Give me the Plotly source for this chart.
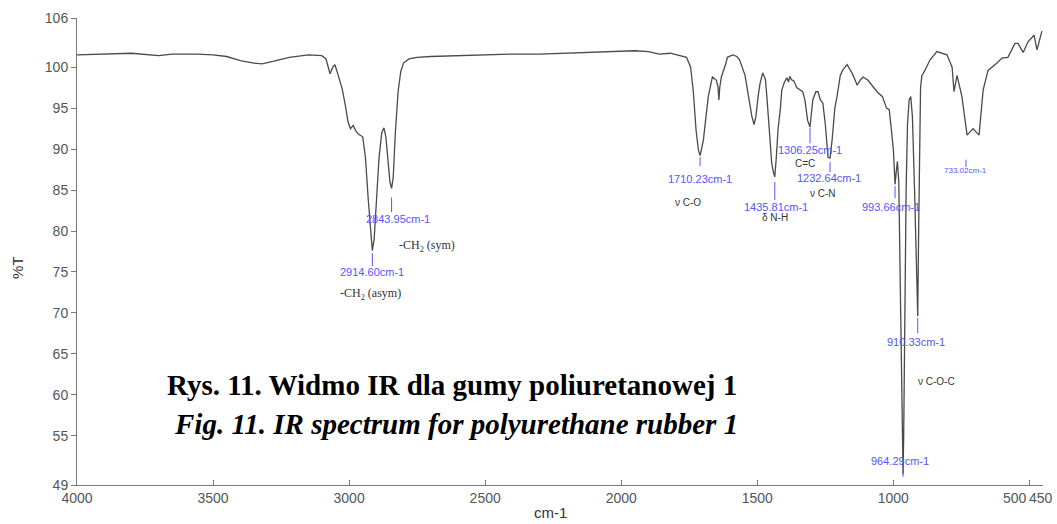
import plotly.graph_objects as go

# ---- spectrum data (wavenumber cm-1, %T) ----
wavenumber = [4000, 3900, 3800, 3700, 3650, 3560, 3500, 3450, 3400, 3350, 3320, 3280, 3220, 3150, 3100,
              3085, 3070, 3060, 3052, 3040, 3025, 3012, 3004, 2995, 2985, 2975, 2965, 2950, 2940, 2930,
              2920, 2914.6, 2908, 2900, 2890, 2880, 2872, 2865, 2858, 2850, 2843.95, 2838, 2830, 2820,
              2810, 2800, 2780, 2750, 2700, 2600, 2500, 2400, 2300, 2200, 2100, 2000, 1950, 1900, 1860,
              1820, 1780, 1760, 1745, 1735, 1725, 1716, 1710.23, 1704, 1698, 1690, 1680, 1665, 1650,
              1644, 1641, 1638, 1632, 1615, 1610, 1590, 1575, 1565, 1545, 1528, 1520, 1512, 1505, 1497,
              1490, 1480, 1470, 1465, 1455, 1447, 1441, 1435.81, 1430, 1424, 1415, 1410, 1400, 1391,
              1385, 1380, 1375, 1365, 1355, 1340, 1333, 1325, 1315, 1306.25, 1300, 1296, 1285, 1277,
              1268, 1259, 1250, 1240, 1232.64, 1225, 1215, 1207, 1195, 1185, 1170, 1160, 1152, 1140,
              1133, 1120, 1111, 1093, 1060, 1040, 1025, 1015, 1006, 1000, 997, 993.66, 990, 985, 980,
              975, 970, 966, 964.29, 962, 958, 953, 948, 942, 936, 930, 922, 916, 912, 910.33, 907,
              904, 900, 895, 884, 865, 840, 803, 784, 777, 766, 748, 729, 707, 685, 670, 652, 619,
              601, 579, 553, 542, 523, 505, 483, 472, 454]
transmittance = [101.5, 101.6, 101.7, 101.4, 101.6, 101.6, 101.5, 101.3, 100.8, 100.5, 100.4, 100.7, 101.2, 101.5, 101.4,
                 101.0, 99.2, 100.0, 100.3, 99.0, 97.3, 95.0, 93.3, 92.5, 92.9, 92.2, 91.8, 91.5, 89.0, 84.0,
                 79.0, 77.6, 79.0, 84.0, 89.0, 92.0, 92.6, 91.5, 89.0, 86.0, 85.2, 86.5, 92.0, 97.0,
                 99.5, 100.5, 101.0, 101.2, 101.3, 101.4, 101.5, 101.6, 101.6, 101.7, 101.8, 101.9, 102.0, 101.9, 101.6,
                 101.7, 101.4, 101.2, 100.0, 97.0, 92.3, 89.8, 89.2, 90.0, 91.1, 93.5, 96.4, 98.8, 98.4,
                 97.5, 96.0, 97.5, 98.8, 100.5, 101.2, 101.5, 101.3, 100.9, 99.0, 95.6, 94.0, 93.0, 94.0, 96.4,
                 98.0, 99.3, 98.5, 96.5, 92.0, 88.3, 87.2, 86.6, 89.0, 92.3, 95.0, 97.2, 98.2, 98.7,
                 98.2, 98.9, 98.5, 98.3, 97.5, 97.2, 97.0, 96.0, 93.5, 92.7, 94.5, 96.0, 97.0, 97.0,
                 96.0, 95.6, 93.0, 89.0, 88.9, 91.1, 95.0, 96.4, 99.0, 99.7, 100.3, 99.8, 99.3, 98.4,
                 97.8, 98.5, 98.8, 98.4, 97.0, 96.4, 95.0, 94.8, 92.3, 90.0, 88.0, 85.7, 87.0, 88.5, 86.0,
                 75.0, 62.0, 53.0, 50.3, 55.0, 70.0, 85.0, 93.0, 96.0, 96.4, 94.0, 85.0, 76.0, 71.0, 69.6, 80.0,
                 92.0, 97.5, 99.0, 99.6, 100.9, 101.9, 101.5, 100.0, 97.0, 99.0, 96.4, 91.7, 92.5, 91.7, 97.2, 99.6, 100.5,
                 101.1, 101.2, 102.9, 102.9, 101.8, 103.1, 103.9, 102.1, 104.4]

# ---- peak labels ----
peak_wn = [2843.95, 2914.60, 1710.23, 1435.81, 1306.25, 1232.64, 993.66, 964.29, 910.33, 733.02]
peak_text = ["2843.95cm-1", "2914.60cm-1", "1710.23cm-1", "1435.81cm-1", "1306.25cm-1",
             "1232.64cm-1", "993.66cm-1", "964.29cm-1", "910.33cm-1", "733.02cm-1"]
tick_top = [84.1, 77.3, 89.0, 86.0, 92.6, 88.4, 85.5, 50.9, 69.4, 88.7]
tick_bot = [82.3, 75.7, 87.9, 83.8, 90.7, 87.2, 84.0, 50.0, 67.5, 87.8]
text_wn = [2820, 2916, 1710, 1432, 1306, 1236, 1009, 976, 917, 733]
text_y = [81.5, 75.0, 86.3, 82.9, 89.9, 86.5, 82.9, 51.9, 66.4, 87.4]

band_text = ["-CH<sub>2</sub> (sym)", "-CH<sub>2</sub> (asym)", "ν C-O", "δ N-H", "C=C", "ν C-N", "ν C-O-C"]
band_wn = [2714, 2923, 1755, 1435, 1325, 1258, 840]
band_y = [78.2, 72.3, 83.5, 81.6, 88.3, 84.6, 61.6]
band_serif = [True, True, False, False, False, False, False]

x_ticks = [4000, 3500, 3000, 2500, 2000, 1500, 1000, 500, 450]
y_ticks = [49, 55, 60, 65, 70, 75, 80, 85, 90, 95, 100, 106]

BLUE = "#5555ff"
TICKFONT = dict(family="Liberation Sans, Arial", size=14, color="#555")

fig = go.Figure()
fig.add_trace(go.Scatter(x=wavenumber, y=transmittance, mode="lines",
                         line=dict(color="#4a4a4a", width=1.3), showlegend=False,
                         hoverinfo="x+y"))

shapes = []
annotations = []
for i in range(len(peak_wn)):
    shapes.append(dict(type="line", xref="x", yref="y", x0=peak_wn[i], x1=peak_wn[i],
                       y0=tick_bot[i], y1=tick_top[i], line=dict(color=BLUE, width=1)))
    small = i == len(peak_wn) - 1
    annotations.append(dict(x=text_wn[i], y=text_y[i], xref="x", yref="y", text=peak_text[i],
                            xanchor="center", yanchor="middle", showarrow=False,
                            font=dict(family="Liberation Sans, Arial",
                                      size=8 if small else 11, color=BLUE)))
for i in range(len(band_text)):
    if band_serif[i]:
        f = dict(family="Liberation Serif, Times New Roman", size=12, color="#333333")
    else:
        f = dict(family="Liberation Sans, Arial", size=10, color="#333333")
    annotations.append(dict(x=band_wn[i], y=band_y[i], xref="x", yref="y", text=band_text[i],
                            xanchor="center", yanchor="middle", showarrow=False, font=f))

# last two x tick labels sit side by side, drawn as annotations
edge_ticks = [500, 450]
edge_anchor = ["right", "center"]
edge_shift = [0, -2]
for v, a, s in zip(edge_ticks, edge_anchor, edge_shift):
    annotations.append(dict(x=v, y=0, xref="x", yref="paper", text=str(v), xanchor=a,
                            yanchor="top", yshift=-3, xshift=s, showarrow=False, font=TICKFONT))

annotations.append(dict(x=0.388, y=0.214, xref="paper", yref="paper",
                        xanchor="center", yanchor="middle",
                        text="<b>Rys. 11. Widmo IR dla gumy poliuretanowej 1</b>", showarrow=False,
                        font=dict(family="Liberation Serif, Times New Roman", size=29, color="#000")))
annotations.append(dict(x=0.392, y=0.131, xref="paper", yref="paper",
                        xanchor="center", yanchor="middle",
                        text="<b><i>Fig. 11. IR spectrum for polyurethane rubber 1</i></b>", showarrow=False,
                        font=dict(family="Liberation Serif, Times New Roman", size=29, color="#000")))
annotations.append(dict(x=-0.061, y=0.465, xref="paper", yref="paper", text="%T", textangle=-90,
                        xanchor="center", yanchor="middle",
                        showarrow=False, font=dict(family="Liberation Sans, Arial", size=15, color="#333")))
annotations.append(dict(x=0.49, y=-0.058, xref="paper", yref="paper", text="cm-1",
                        xanchor="center", yanchor="middle",
                        showarrow=False, font=dict(family="Liberation Sans, Arial", size=15, color="#333")))

fig.update_layout(
    width=1057, height=524,
    margin=dict(l=77, r=14, t=18, b=39, autoexpand=False),
    paper_bgcolor="white", plot_bgcolor="white",
    shapes=shapes, annotations=annotations,
    xaxis=dict(range=[4000, 450], tickvals=x_ticks,
               ticktext=[("" if v in edge_ticks else str(v)) for v in x_ticks],
               tickangle=0, ticks="inside", ticklen=5, tickcolor="#777", showline=True, linecolor="#777",
               linewidth=1, showgrid=False, zeroline=False, tickfont=TICKFONT),
    yaxis=dict(range=[49, 106], tickvals=y_ticks, ticktext=[str(v) for v in y_ticks],
               ticks="outside", ticklen=5, tickcolor="#777", showline=True, linecolor="#777",
               linewidth=1, showgrid=False, zeroline=False, tickfont=TICKFONT),
)

fig.write_html("out.html")
